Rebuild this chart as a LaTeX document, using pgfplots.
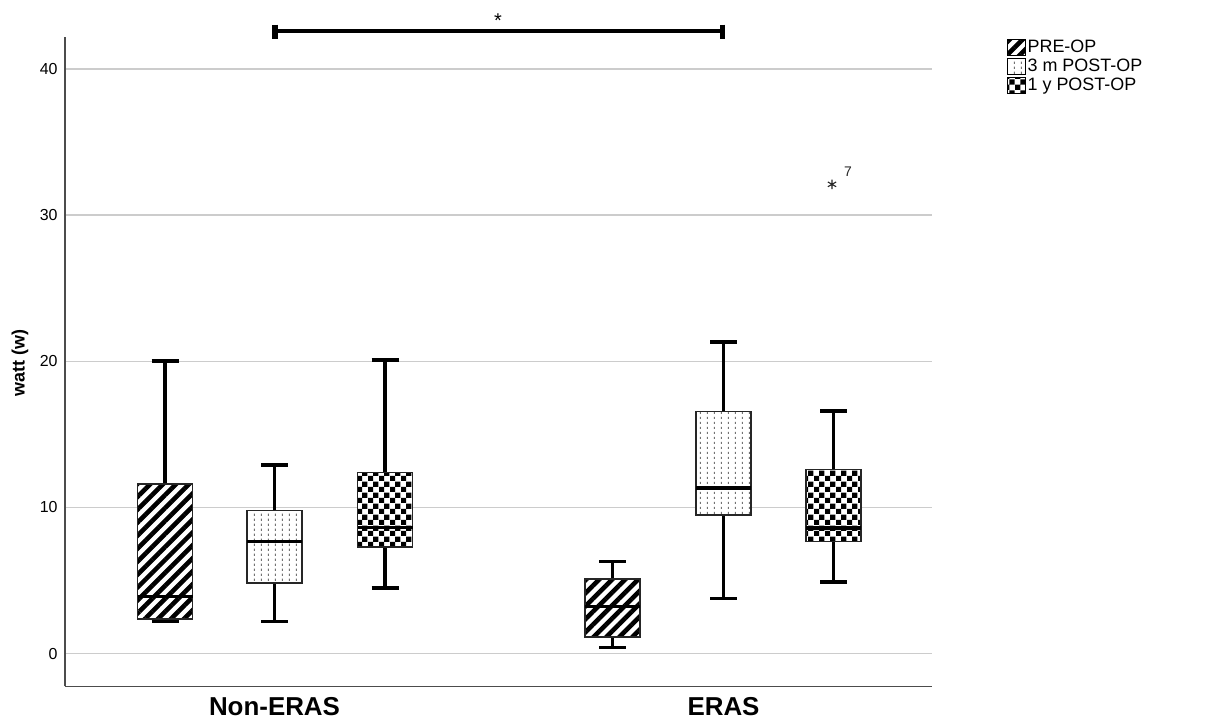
\documentclass[border=0pt]{standalone}
\usepackage{fontspec}
\setmainfont{Liberation Sans}
\usepackage{pgfplots}
\pgfplotsset{compat=1.18}
\usetikzlibrary{patterns,patterns.meta}

\pgfdeclarepatternformonly{vdots}{\pgfqpoint{0pt}{0pt}}{\pgfqpoint{3.5pt}{2.4pt}}{\pgfqpoint{3.5pt}{2.4pt}}{%
  \pgfpathrectangle{\pgfqpoint{1.5pt}{0.6pt}}{\pgfqpoint{0.45pt}{1.1pt}}\pgfusepath{fill}}
\pgfdeclarepatternformonly{checker}{\pgfqpoint{0pt}{0pt}}{\pgfqpoint{5.6pt}{5.6pt}}{\pgfqpoint{5.6pt}{5.6pt}}{%
  \pgfpathrectangle{\pgfqpoint{0pt}{0pt}}{\pgfqpoint{2.8pt}{2.8pt}}%
  \pgfpathrectangle{\pgfqpoint{2.8pt}{2.8pt}}{\pgfqpoint{2.8pt}{2.8pt}}\pgfusepath{fill}}

\tikzset{
  preop/.style={fill=white, postaction={pattern={Lines[angle=45,distance=4.6pt,line width=2.3pt]}}},
  threem/.style={fill=white, postaction={pattern=vdots, pattern color=black!55}},
  oney/.style={fill=white, postaction={pattern=checker, pattern color=black}},
}
\pgfplotsset{
  boxst/.style={forget plot, draw=black!85, line width=0.6bp, mark=none},
  whisk/.style={forget plot, draw=black, line width=1.8bp, mark=none, unbounded coords=jump},
  med/.style={forget plot, draw=black, line width=1.7bp, mark=none},
}

\begin{document}
\begin{tikzpicture}
\useasboundingbox (0,0) rectangle (614bp,362.5bp);
\begin{axis}[
  at={(32.5bp,19.25bp)}, anchor=south west,
  scale only axis, width=433.5bp, height=324.75bp,
  xmin=65, xmax=932, ymin=-2.25, ymax=42.18,
  clip=false,
  axis lines*=left,
  axis line style={draw=black!70, line width=0.6bp},
  ymajorgrids, grid style={draw=black!20, line width=0.7bp},
  ytick={0,10,20,30,40},
  xtick={274.5,723.5}, xticklabels={Non-ERAS,ERAS},
  major tick length=0pt, tick style={draw=none},
  /pgf/number format/assume math mode=true,
  yticklabel style={font=\fontsize{8}{8}\selectfont, inner sep=0pt, xshift=-3.5bp},
  xticklabel style={font=\bfseries\fontsize{13}{13}\selectfont, inner sep=0pt, yshift=-5.2bp, anchor=north},
  ylabel={watt (w)},
  ylabel style={at={(axis description cs:-0.0519,0.498)}, anchor=center, font=\bfseries\fontsize{9}{9}\selectfont},
  legend image code/.code={\draw[line width=0.5bp,#1] (0bp,-4bp) rectangle (9bp,4bp);},
  legend style={at={(axis description cs:1.0865,1.0)}, anchor=north west, draw=none, fill=none,
    font=\fontsize{9}{9}\selectfont, row sep=0pt, inner sep=0pt,
    nodes={inner sep=0.6bp, text height=6.8bp, text depth=1.7bp}},
  legend cell align=left,
]
% ---------------- Non-ERAS, PRE-OP (x=165)
\addplot[whisk] coordinates {(165,11.6) (165,20.0) (nan,nan) (151.5,20.0) (178.5,20.0) (nan,nan) (165,2.37) (165,2.2) (nan,nan) (151.5,2.2) (178.5,2.2)};
\addplot[boxst, preop] coordinates {(137.5,2.37) (192.5,2.37) (192.5,11.6) (137.5,11.6)} -- cycle;
\addplot[med] coordinates {(137.5,3.92) (192.5,3.92)};
% ---------------- Non-ERAS, 3 m POST-OP (x=274.5)
\addplot[whisk] coordinates {(274.5,9.78) (274.5,12.92) (nan,nan) (261,12.92) (288,12.92) (nan,nan) (274.5,4.83) (274.5,2.2) (nan,nan) (261,2.2) (288,2.2)};
\addplot[boxst, threem] coordinates {(247,4.83) (302,4.83) (302,9.78) (247,9.78)} -- cycle;
\addplot[med] coordinates {(247,7.68) (302,7.68)};
% ---------------- Non-ERAS, 1 y POST-OP (x=385)
\addplot[whisk] coordinates {(385,12.4) (385,20.1) (nan,nan) (371.5,20.1) (398.5,20.1) (nan,nan) (385,7.29) (385,4.49) (nan,nan) (371.5,4.49) (398.5,4.49)};
\addplot[boxst, oney] coordinates {(357.5,7.29) (412.5,7.29) (412.5,12.4) (357.5,12.4)} -- cycle;
\addplot[med] coordinates {(357.5,8.64) (412.5,8.64)};
% ---------------- ERAS, PRE-OP (x=612.5)
\addplot[whisk] coordinates {(612.5,5.1) (612.5,6.31) (nan,nan) (599,6.31) (626,6.31) (nan,nan) (612.5,1.14) (612.5,0.41) (nan,nan) (599,0.41) (626,0.41)};
\addplot[boxst, preop] coordinates {(585,1.14) (640,1.14) (640,5.1) (585,5.1)} -- cycle;
\addplot[med] coordinates {(585,3.24) (640,3.24)};
% ---------------- ERAS, 3 m POST-OP (x=723.5)
\addplot[whisk] coordinates {(723.5,16.57) (723.5,21.3) (nan,nan) (710,21.3) (737,21.3) (nan,nan) (723.5,9.48) (723.5,3.78) (nan,nan) (710,3.78) (737,3.78)};
\addplot[boxst, threem] coordinates {(696,9.48) (751,9.48) (751,16.57) (696,16.57)} -- cycle;
\addplot[med] coordinates {(696,11.33) (751,11.33)};
% ---------------- ERAS, 1 y POST-OP (x=833.5)
\addplot[whisk] coordinates {(833.5,12.58) (833.5,16.6) (nan,nan) (820,16.6) (847,16.6) (nan,nan) (833.5,7.68) (833.5,4.9) (nan,nan) (820,4.9) (847,4.9)};
\addplot[boxst, oney] coordinates {(806,7.68) (861,7.68) (861,12.58) (806,12.58)} -- cycle;
\addplot[med] coordinates {(806,8.59) (861,8.59)};
% outlier
\addplot[forget plot, only marks, mark=asterisk, mark size=2.4bp, black!85, line width=0.55bp] coordinates {(832,32.1)};
\node[font=\fontsize{7}{7}\selectfont, black!85] at (axis cs:848,32.96) {7};
% significance bar
\addplot[forget plot, black, line width=2bp] coordinates {(275,42.56) (722.7,42.56)};
\addplot[forget plot, black, line width=2.6bp] coordinates {(275,43.02) (275,42.06)};
\addplot[forget plot, black, line width=2.6bp] coordinates {(722.7,43.02) (722.7,42.06)};
\node[font=\fontsize{10}{10}\selectfont] at (axis cs:498,43.3) {*};
% legend
\addlegendimage{preop}
\addlegendentry{PRE-OP}
\addlegendimage{threem}
\addlegendentry{3 m POST-OP}
\addlegendimage{oney}
\addlegendentry{1 y POST-OP}
\end{axis}
\end{tikzpicture}
\end{document}
